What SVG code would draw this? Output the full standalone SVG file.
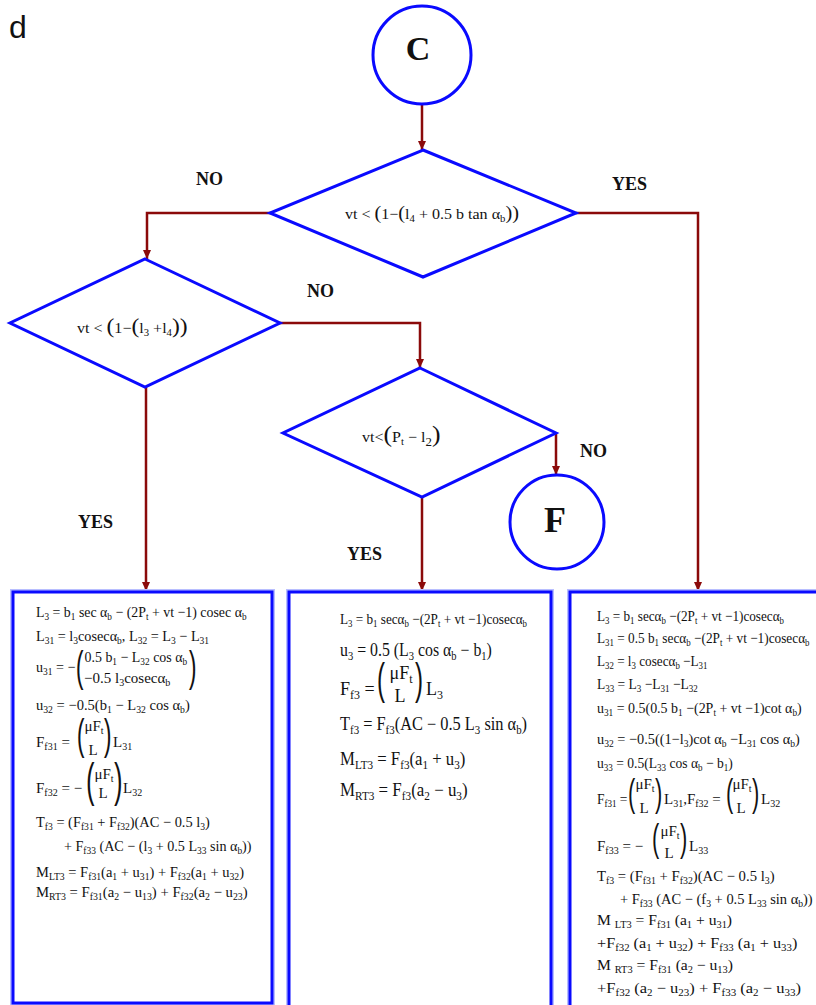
<svg xmlns="http://www.w3.org/2000/svg" width="816" height="1005" viewBox="0 0 816 1005">
<style>
.t{font-family:"Liberation Serif","Times New Roman",serif;font-size:15px;fill:#111}
.t2{font-family:"Liberation Serif","Times New Roman",serif;font-size:18px;fill:#111}
.b{font-size:10px;baseline-shift:-3px}
.b2{font-size:12px;baseline-shift:-4px}
.p{font-family:"Liberation Sans",Arial,sans-serif;fill:#111}
.lbl{font-family:"Liberation Serif","Times New Roman",serif;font-weight:bold;font-size:18px;fill:#111}
.node{fill:#fff;stroke:#0a0aff;stroke-width:3}
.box{fill:#fff;stroke:#0a0aff;stroke-width:3}
.halo{fill:none;stroke:#b8beff;stroke-width:6}
.con{fill:none;stroke:#8b0a0a;stroke-width:2.5}
</style>
<defs>
<marker id="ah" markerUnits="userSpaceOnUse" markerWidth="10" markerHeight="10" refX="9" refY="5" orient="auto">
<path d="M0,1 L9,5 L0,9 z" fill="#8b0a0a"/>
</marker>
</defs>
<rect width="816" height="1005" fill="#fff"/>
<text x="9" y="38" font-family="Liberation Sans,Arial,sans-serif" font-size="32" fill="#111">d</text>

<g id="connectors">
<path class="con" d="M422,104 V150" marker-end="url(#ah)"/>
<path class="con" d="M271,213 H147 V259" marker-end="url(#ah)"/>
<path class="con" d="M576,213 H698 V591" marker-end="url(#ah)"/>
<path class="con" d="M280,323 H420 V368" marker-end="url(#ah)"/>
<path class="con" d="M146,387 V591" marker-end="url(#ah)"/>
<path class="con" d="M556,433 V475" marker-end="url(#ah)"/>
<path class="con" d="M422,497 V591" marker-end="url(#ah)"/>
</g>

<g id="labels">
<text class="lbl" x="196" y="185">NO</text>
<text class="lbl" x="612" y="190">YES</text>
<text class="lbl" x="307" y="297">NO</text>
<text class="lbl" x="580" y="457">NO</text>
<text class="lbl" x="78" y="528">YES</text>
<text class="lbl" x="347" y="560">YES</text>
</g>

<g id="node-C">
<circle class="node" cx="422" cy="55" r="49"/>
<text x="418" y="60" text-anchor="middle" font-family="Liberation Serif,serif" font-weight="bold" font-size="34" fill="#111">C</text>
</g>

<g id="node-F">
<circle class="node" cx="557" cy="522" r="47"/>
<text x="555" y="532" text-anchor="middle" font-family="Liberation Serif,serif" font-weight="bold" font-size="36" fill="#111">F</text>
</g>

<g id="decision-1">
<polygon class="node" points="423,150 576,213 423,277 270,213"/>
<text class="t" font-size="13" transform="translate(345,219) scale(1.07,1)">vt &lt; <tspan style="font-size:19px">(</tspan>1−<tspan style="font-size:19px">(</tspan>l<tspan class="b">4</tspan> + 0.5 b tan α<tspan class="b">b</tspan><tspan style="font-size:19px">))</tspan></text>
</g>

<g id="decision-2">
<polygon class="node" points="145,259 280,323 145,387 10,323"/>
<text class="t" font-size="17" transform="translate(77,333) scale(1.07,1)">vt &lt; <tspan style="font-size:22px">(</tspan>1−<tspan style="font-size:22px">(</tspan>l<tspan class="b">3</tspan> +l<tspan class="b">4</tspan><tspan style="font-size:22px">))</tspan></text>
</g>

<g id="decision-3">
<polygon class="node" points="420,368 556,433 422,497 283,433"/>
<text class="t" font-size="20" transform="translate(362,442) scale(1.07,1)">vt&lt;<tspan style="font-size:24px">(</tspan>P<tspan class="b">t</tspan> − l<tspan class="b2">2</tspan><tspan style="font-size:24px">)</tspan></text>
</g>

<g id="box-left">
<rect class="halo" x="13" y="592" width="259" height="411"/>
<rect class="box" x="13" y="592" width="259" height="411"/>
<text class="t" transform="translate(36,617) scale(0.925,1)">L<tspan class="b">3</tspan> = b<tspan class="b">1</tspan> sec α<tspan class="b">b</tspan> − (2P<tspan class="b">t</tspan> + vt −1) cosec α<tspan class="b">b</tspan></text>
<text class="t" transform="translate(36,641) scale(0.95,1)">L<tspan class="b">31</tspan> = l<tspan class="b">3</tspan>cosecα<tspan class="b">b</tspan>, L<tspan class="b">32</tspan> = L<tspan class="b">3</tspan> − L<tspan class="b">31</tspan></text>
<text class="t" transform="translate(36,672) scale(0.94,1)">u<tspan class="b">31</tspan> = −</text>
<text class="p" font-size="41.6" transform="translate(83.6,658.7) rotate(180) scale(0.55,1)">)</text>
<text class="t" transform="translate(84.5,662) scale(0.93,1)">0.5 b<tspan class="b">1</tspan> − L<tspan class="b">32</tspan> cos α<tspan class="b">b</tspan></text>
<text class="t" x="84" y="683">−0.5 l<tspan class="b">3</tspan>cosecα<tspan class="b">b</tspan></text>
<text class="p" font-size="41.6" transform="translate(196.6,658.7) rotate(180) scale(0.55,1)">(</text>
<text class="t" transform="translate(36,710) scale(0.97,1)">u<tspan class="b">32</tspan> = −0.5(b<tspan class="b">1</tspan> − L<tspan class="b">32</tspan> cos α<tspan class="b">b</tspan>)</text>
<text class="t" x="36" y="747">F<tspan class="b">f31</tspan> =</text>
<text class="p" font-size="41.6" transform="translate(84.6,726.7) rotate(180) scale(0.55,1)">)</text>
<text class="t" x="94" y="731" text-anchor="middle">μF<tspan class="b">t</tspan></text>
<text class="t" x="93" y="755" text-anchor="middle">L</text>
<text class="p" font-size="41.6" transform="translate(111.6,726.7) rotate(180) scale(0.55,1)">(</text>
<text class="t" x="113" y="747">L<tspan class="b">31</tspan></text>
<text class="t" x="36" y="793">F<tspan class="b">f32</tspan> = −</text>
<text class="p" font-size="45.8" transform="translate(94.4,771.6) rotate(180) scale(0.55,1)">)</text>
<text class="t" x="104" y="779" text-anchor="middle">μF<tspan class="b">t</tspan></text>
<text class="t" x="103" y="798" text-anchor="middle">L</text>
<text class="p" font-size="45.8" transform="translate(122.4,771.6) rotate(180) scale(0.55,1)">(</text>
<text class="t" x="123" y="793">L<tspan class="b">32</tspan></text>
<text class="t" transform="translate(36,827) scale(0.96,1)">T<tspan class="b">f3</tspan> = (F<tspan class="b">f31</tspan> + F<tspan class="b">f32</tspan>)(AC − 0.5 l<tspan class="b">3</tspan>)</text>
<text class="t" transform="translate(64,851) scale(0.943,1)">+ F<tspan class="b">f33</tspan> (AC − (l<tspan class="b">3</tspan> + 0.5 L<tspan class="b">33</tspan> sin α<tspan class="b">b</tspan>))</text>
<text class="t" transform="translate(36,877) scale(0.967,1)">M<tspan class="b">LT3</tspan> = F<tspan class="b">f31</tspan>(a<tspan class="b">1</tspan> + u<tspan class="b">31</tspan>) + F<tspan class="b">f32</tspan>(a<tspan class="b">1</tspan> + u<tspan class="b">32</tspan>)</text>
<text class="t" transform="translate(36,897) scale(0.98,1)">M<tspan class="b">RT3</tspan> = F<tspan class="b">f31</tspan>(a<tspan class="b">2</tspan> − u<tspan class="b">13</tspan>) + F<tspan class="b">f32</tspan>(a<tspan class="b">2</tspan> − u<tspan class="b">23</tspan>)</text>
</g>

<g id="box-middle">
<rect class="halo" x="289" y="592" width="262" height="430"/>
<rect class="box" x="289" y="592" width="262" height="430"/>
<text class="t" transform="translate(340,624) scale(0.88,1)">L<tspan class="b">3</tspan> = b<tspan class="b">1</tspan> secα<tspan class="b">b</tspan> −(2P<tspan class="b">t</tspan> + vt −1)cosecα<tspan class="b">b</tspan></text>
<text class="t2" transform="translate(340,656) scale(0.88,1)">u<tspan class="b2">3</tspan> = 0.5 (L<tspan class="b2">3</tspan> cos α<tspan class="b2">b</tspan> − b<tspan class="b2">1</tspan>)</text>
<text class="t2" x="340" y="695">F<tspan class="b2">f3</tspan> =</text>
<text class="p" font-size="43.7" transform="translate(385,671.2) rotate(180) scale(0.55,1)">)</text>
<text class="t2" x="401" y="679" text-anchor="middle">μF<tspan class="b2">t</tspan></text>
<text class="t2" x="400" y="702" text-anchor="middle">L</text>
<text class="p" font-size="43.7" transform="translate(423,671.2) rotate(180) scale(0.55,1)">(</text>
<text class="t2" x="426" y="695">L<tspan class="b2">3</tspan></text>
<text class="t2" transform="translate(340,730) scale(0.91,1)">T<tspan class="b2">f3</tspan> = F<tspan class="b2">f3</tspan>(AC − 0.5 L<tspan class="b2">3</tspan> sin α<tspan class="b2">b</tspan>)</text>
<text class="t2" transform="translate(340,765) scale(0.93,1)">M<tspan class="b2">LT3</tspan> = F<tspan class="b2">f3</tspan>(a<tspan class="b2">1</tspan> + u<tspan class="b2">3</tspan>)</text>
<text class="t2" transform="translate(340,796) scale(0.94,1)">M<tspan class="b2">RT3</tspan> = F<tspan class="b2">f3</tspan>(a<tspan class="b2">2</tspan> − u<tspan class="b2">3</tspan>)</text>
</g>

<g id="box-right">
<rect class="halo" x="570" y="592" width="260" height="430"/>
<rect class="box" x="570" y="592" width="260" height="430"/>
<text class="t" transform="translate(597,621) scale(0.88,1)">L<tspan class="b">3</tspan> = b<tspan class="b">1</tspan> secα<tspan class="b">b</tspan> −(2P<tspan class="b">t</tspan> + vt −1)cosecα<tspan class="b">b</tspan></text>
<text class="t" transform="translate(597,643) scale(0.885,1)">L<tspan class="b">31</tspan> = 0.5 b<tspan class="b">1</tspan> secα<tspan class="b">b</tspan> −(2P<tspan class="b">t</tspan> + vt −1)cosecα<tspan class="b">b</tspan></text>
<text class="t" transform="translate(597,666) scale(0.88,1)">L<tspan class="b">32</tspan> = l<tspan class="b">3</tspan> cosecα<tspan class="b">b</tspan> −L<tspan class="b">31</tspan></text>
<text class="t" transform="translate(597,689) scale(0.9,1)">L<tspan class="b">33</tspan> = L<tspan class="b">3</tspan> −L<tspan class="b">31</tspan> −L<tspan class="b">32</tspan></text>
<text class="t" transform="translate(597,713) scale(0.93,1)">u<tspan class="b">31</tspan> = 0.5(0.5 b<tspan class="b">1</tspan> −(2P<tspan class="b">t</tspan> + vt −1)cot α<tspan class="b">b</tspan>)</text>
<text class="t" transform="translate(597,744) scale(0.955,1)">u<tspan class="b">32</tspan> = −0.5((1−l<tspan class="b">3</tspan>)cot α<tspan class="b">b</tspan> −L<tspan class="b">31</tspan> cos α<tspan class="b">b</tspan>)</text>
<text class="t" transform="translate(597,768) scale(0.905,1)">u<tspan class="b">33</tspan> = 0.5(L<tspan class="b">33</tspan> cos α<tspan class="b">b</tspan> − b<tspan class="b">1</tspan>)</text>
<text class="t" transform="translate(597,804) scale(0.9,1)">F<tspan class="b">f31</tspan> =</text>
<text class="p" font-size="39.4" transform="translate(635.2,786.3) rotate(180) scale(0.55,1)">)</text>
<text class="t" x="645" y="789" text-anchor="middle">μF<tspan class="b">t</tspan></text>
<text class="t" x="644" y="813" text-anchor="middle">L</text>
<text class="p" font-size="39.4" transform="translate(662.2,786.3) rotate(180) scale(0.55,1)">(</text>
<text class="t" x="664" y="804">L<tspan class="b">31</tspan>,F<tspan class="b">f32</tspan> =</text>
<text class="p" font-size="39.4" transform="translate(733.2,786.3) rotate(180) scale(0.55,1)">)</text>
<text class="t" x="742" y="789" text-anchor="middle">μF<tspan class="b">t</tspan></text>
<text class="t" x="741" y="813" text-anchor="middle">L</text>
<text class="p" font-size="39.4" transform="translate(759.2,786.3) rotate(180) scale(0.55,1)">(</text>
<text class="t" x="761" y="804">L<tspan class="b">32</tspan></text>
<text class="t" x="597" y="851">F<tspan class="b">f33</tspan> = −</text>
<text class="p" font-size="39.4" transform="translate(659.2,831.3) rotate(180) scale(0.55,1)">)</text>
<text class="t" x="670" y="836" text-anchor="middle">μF<tspan class="b">t</tspan></text>
<text class="t" x="669" y="858" text-anchor="middle">L</text>
<text class="p" font-size="39.4" transform="translate(687.2,831.3) rotate(180) scale(0.55,1)">(</text>
<text class="t" x="689" y="851">L<tspan class="b">33</tspan></text>
<text class="t" transform="translate(597,881) scale(0.98,1)">T<tspan class="b">f3</tspan> = (F<tspan class="b">f31</tspan> + F<tspan class="b">f32</tspan>)(AC − 0.5 l<tspan class="b">3</tspan>)</text>
<text class="t" transform="translate(620,904) scale(0.965,1)">+ F<tspan class="b">f33</tspan> (AC − (f<tspan class="b">3</tspan> + 0.5 L<tspan class="b">33</tspan> sin α<tspan class="b">b</tspan>))</text>
<text class="t" transform="translate(597,925) scale(1.04,1)">M <tspan class="b">LT3</tspan> = F<tspan class="b">f31</tspan> (a<tspan class="b">1</tspan> + u<tspan class="b">31</tspan>)</text>
<text class="t" transform="translate(597,948) scale(1.08,1)">+F<tspan class="b">f32</tspan> (a<tspan class="b">1</tspan> + u<tspan class="b">32</tspan>) + F<tspan class="b">f33</tspan> (a<tspan class="b">1</tspan> + u<tspan class="b">33</tspan>)</text>
<text class="t" transform="translate(597,970) scale(1.04,1)">M <tspan class="b">RT3</tspan> = F<tspan class="b">f31</tspan> (a<tspan class="b">2</tspan> − u<tspan class="b">13</tspan>)</text>
<text class="t" transform="translate(597,993) scale(1.1,1)">+F<tspan class="b">f32</tspan> (a<tspan class="b">2</tspan> − u<tspan class="b">23</tspan>) + F<tspan class="b">f33</tspan> (a<tspan class="b">2</tspan> − u<tspan class="b">33</tspan>)</text>
</g>
</svg>
